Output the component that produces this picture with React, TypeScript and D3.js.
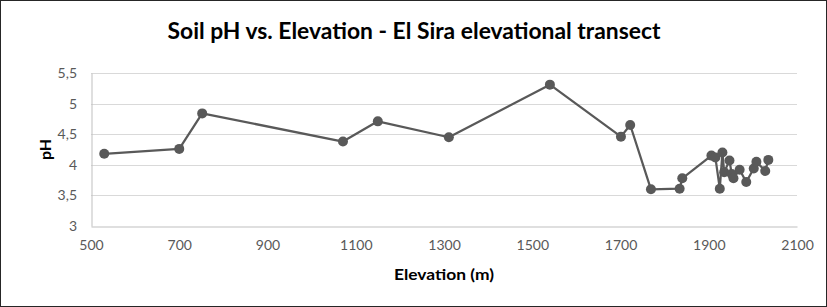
import { useEffect, useRef } from "react";
import * as d3 from "d3";

const TITLE = "Soil pH vs. Elevation - El Sira elevational transect";
const X_LABEL = "Elevation (m)";
const Y_LABEL = "pH";

// elevation (m) and soil pH per sample, in data order
const ELEVATION = [
  530, 700, 752, 1071, 1150, 1311, 1540, 1701, 1722, 1769, 1834, 1840, 1906,
  1915, 1925, 1931, 1935, 1947, 1952, 1956, 1970, 1985, 2002, 2008, 2028, 2035,
];
const PH = [
  4.18, 4.26, 4.84, 4.38, 4.71, 4.45, 5.31, 4.46, 4.65, 3.6, 3.61, 3.78, 4.15,
  4.12, 3.61, 4.2, 3.88, 4.07, 3.85, 3.78, 3.92, 3.72, 3.94, 4.05, 3.9, 4.08,
];

const X_TICKS = [500, 700, 900, 1100, 1300, 1500, 1700, 1900, 2100];
const Y_TICKS = [3, 3.5, 4, 4.5, 5, 5.5];

const W = 827;
const H = 307;

export default function App() {
  const svgRef = useRef<SVGSVGElement>(null);

  useEffect(() => {
    const svg = d3.select(svgRef.current);
    svg.selectAll("*").remove();
    const margin = { top: 73, right: 30, bottom: 81, left: 91 };
    const iw = W - margin.left - margin.right;
    const ih = H - margin.top - margin.bottom;
    const font = "Lato, 'Open Sans', sans-serif";

    const x = d3.scaleLinear().domain([500, 2100]).range([0, iw]);
    const y = d3.scaleLinear().domain([3, 5.5]).range([ih, 0]);

    svg.append("rect")
      .attr("x", 0.5)
      .attr("y", 0.5)
      .attr("width", W - 1)
      .attr("height", H - 1)
      .attr("fill", "#fff")
      .attr("stroke", "#262626");

    svg.append("text")
      .attr("x", 414)
      .attr("y", 39)
      .attr("text-anchor", "middle")
      .attr("font-family", font)
      .attr("font-weight", 700)
      .attr("font-size", 22)
      .attr("textLength", 493)
      .attr("lengthAdjust", "spacingAndGlyphs")
      .attr("fill", "#000")
      .text(TITLE);

    const g = svg.append("g")
      .attr("transform", `translate(${margin.left},${margin.top})`);

    // gridlines
    g.selectAll("line.grid")
      .data(Y_TICKS.filter((t) => t > 3))
      .join("line")
      .attr("class", "grid")
      .attr("x1", 0)
      .attr("x2", iw)
      .attr("y1", (d) => Math.round(y(d)) + 0.5)
      .attr("y2", (d) => Math.round(y(d)) + 0.5)
      .attr("stroke", "#d9d9d9")
      .attr("stroke-width", 1);

    const fmt = (d: number) => String(d).replace(".", ",");

    const yAxis = g.append("g")
      .call(d3.axisLeft(y).tickValues(Y_TICKS).tickSize(0).tickPadding(14).tickFormat((d) => fmt(+d)));
    yAxis.select(".domain").attr("stroke", "#bfbfbf").attr("transform", "translate(0.5,0)");
    yAxis.selectAll("text")
      .attr("font-family", font)
      .attr("font-size", 14)
      .attr("fill", "#595959");

    const xAxis = g.append("g")
      .attr("transform", `translate(0,${ih})`)
      .call(d3.axisBottom(x).tickValues(X_TICKS).tickSize(0).tickPadding(14).tickFormat((d) => String(d)));
    xAxis.select(".domain").attr("stroke", "#bfbfbf").attr("transform", "translate(0,0.5)");
    xAxis.selectAll("text")
      .attr("font-family", font)
      .attr("font-size", 14)
      .attr("fill", "#595959");

    const pts = ELEVATION.map((e, i) => ({ e, p: PH[i] }));

    const line = d3.line<{ e: number; p: number }>()
      .x((d) => x(d.e))
      .y((d) => y(d.p));

    g.append("path")
      .datum(pts)
      .attr("d", line)
      .attr("fill", "none")
      .attr("stroke", "#595959")
      .attr("stroke-width", 2.25)
      .attr("stroke-linejoin", "round");

    g.selectAll("circle")
      .data(pts)
      .join("circle")
      .attr("cx", (d) => x(d.e))
      .attr("cy", (d) => y(d.p))
      .attr("r", 5)
      .attr("fill", "#595959");

    svg.append("text")
      .attr("x", margin.left + iw / 2)
      .attr("y", 280)
      .attr("text-anchor", "middle")
      .attr("font-family", font)
      .attr("font-weight", 700)
      .attr("font-size", 16)
      .attr("textLength", 100)
      .attr("lengthAdjust", "spacingAndGlyphs")
      .attr("fill", "#000")
      .text(X_LABEL);

    svg.append("text")
      .attr("transform", `translate(51,${margin.top + ih / 2}) rotate(-90)`)
      .attr("text-anchor", "middle")
      .attr("font-family", font)
      .attr("font-weight", 700)
      .attr("font-size", 16)
      .attr("fill", "#000")
      .text(Y_LABEL);
  }, []);

  return (
    <>
      <style>{`body{margin:0}`}</style>
      <svg ref={svgRef} width={W} height={H} style={{ display: "block" }} />
    </>
  );
}
